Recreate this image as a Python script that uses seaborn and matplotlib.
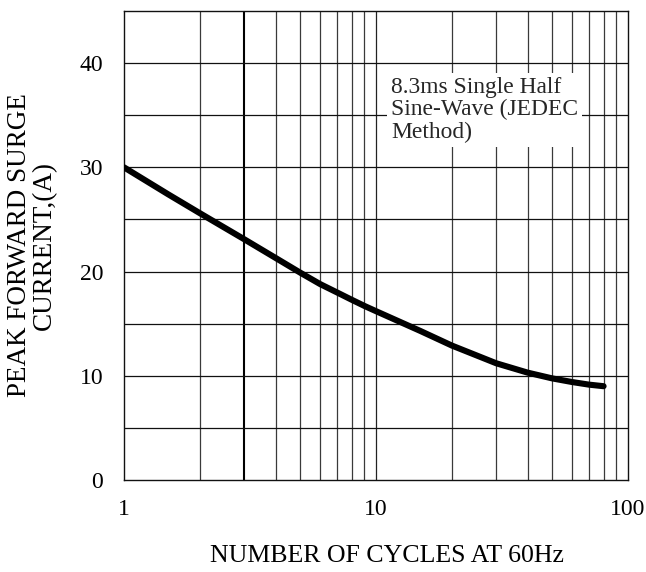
import numpy as np
import pandas as pd
import matplotlib
matplotlib.use("Agg")
import matplotlib.pyplot as plt
import seaborn as sns

# Data
cycles = [1, 1.5, 2, 3, 4, 5, 6, 7, 8, 9, 10, 15, 20, 30, 40, 50, 60, 70, 80]
current = [30.0, 27.4, 25.6, 23.1, 21.3, 19.9, 18.8, 18.0, 17.3, 16.7, 16.2,
           14.3, 12.9, 11.2, 10.3, 9.75, 9.4, 9.15, 9.0]
y_ticks = [0, 10, 20, 30, 40]
x_ticks = [1, 10, 100]
x_ticklabels = ["1", "10", "100"]
note = "8.3ms Single Half\nSine-Wave (JEDEC\nMethod)"
x_title = "NUMBER OF CYCLES AT 60Hz"
y_title = "PEAK FORWARD SURGE\nCURRENT,(A)"

sns.set_theme(style="white")
plt.rcParams['font.family'] = ['Liberation Serif', 'DejaVu Serif']

fig = plt.figure(figsize=(6.46, 5.72), dpi=100)
ax = fig.add_axes([124/646, 1-480/572, (628-124)/646, (480-11)/572])

df = pd.DataFrame({"cycles": cycles, "current": current})

ax.set_xscale("log")
ax.set_xlim(1, 100)
ax.set_ylim(0, 45)

# grid
minor_x = [v for d in (1, 10) for v in np.arange(2, 10) * d]
for v in minor_x:
    if v == 3:
        ax.axvline(v, color="black", lw=1.5, zorder=1)
    else:
        ax.axvline(v, color="#3a3a3a", lw=0.9, zorder=1)
ax.axvline(10, color="#222222", lw=0.9, zorder=1)
for v in np.arange(5, 45, 5):
    ax.axhline(v, color="#111111", lw=0.9, zorder=1)

sns.lineplot(data=df, x="cycles", y="current", ax=ax, color="black",
             lw=4.4, solid_capstyle="round", solid_joinstyle="round", zorder=3)

ax.set_xticks(x_ticks)
ax.set_xticklabels(x_ticklabels)
ax.set_yticks(y_ticks)
ax.minorticks_off()
ax.tick_params(axis="both", length=0, labelsize=17, colors="black")
ax.tick_params(axis="y", pad=15)
ax.tick_params(axis="x", pad=14)

for s in ax.spines.values():
    s.set_color("#111111")
    s.set_linewidth(1.0)

ax.set_xlabel(x_title, fontsize=18.6, color="black", labelpad=17)
ax.xaxis.set_label_coords((387-124)/504, -0.138)
ax.xaxis.label.set_va("top")
ax.set_ylabel(y_title, fontsize=19.5, color="black", labelpad=16, linespacing=1.0)

ax.text(391/646, 1-77/572, note, transform=fig.transFigure, fontsize=16.9,
        va="top", ha="left", linespacing=1.08, zorder=2,
        bbox=dict(facecolor="white", edgecolor="none", pad=3))

fig.savefig("out.png", dpi=100)
